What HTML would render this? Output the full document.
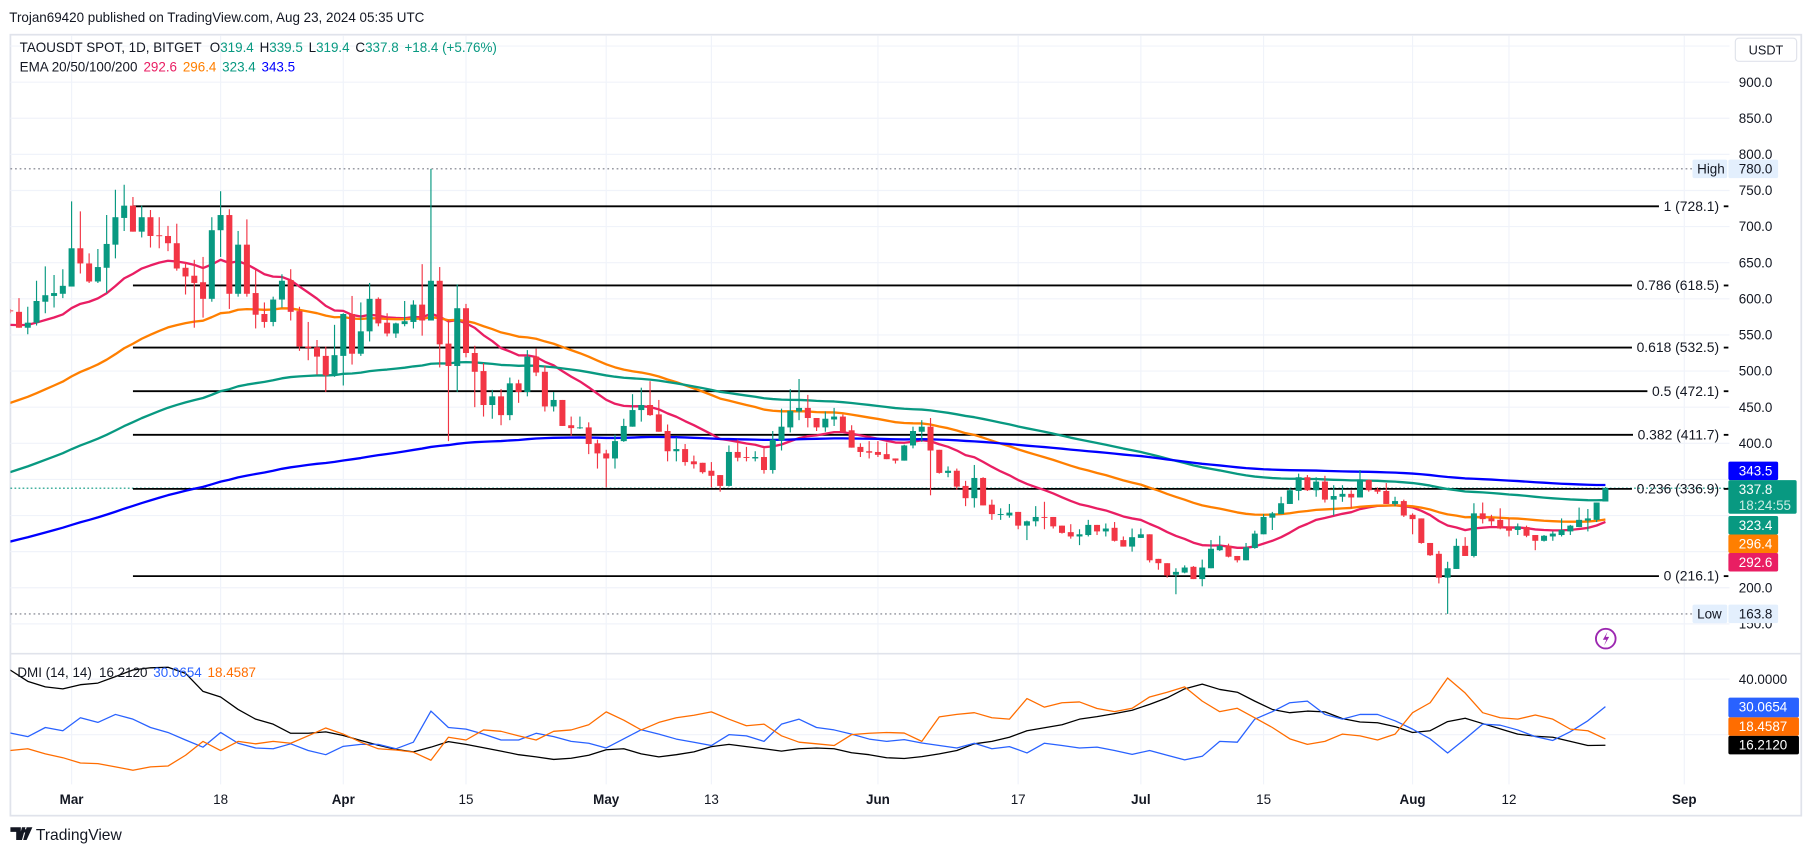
<!DOCTYPE html>
<html><head><meta charset="utf-8"><title>TAOUSDT chart</title>
<style>
html,body{margin:0;padding:0;background:#fff;}
svg{display:block;font-family:"Liberation Sans",sans-serif;}
</style></head>
<body>
<svg id="chart" width="1814" height="855" viewBox="0 0 1568 739" preserveAspectRatio="none" xmlns="http://www.w3.org/2000/svg">
<defs><clipPath id="mainclip"><rect x="9" y="31" width="1486" height="534"/></clipPath>
<clipPath id="dmiclip"><rect x="9" y="566" width="1486" height="112"/></clipPath></defs>
<rect x="0" y="0" width="1568" height="739" fill="#ffffff"/>
<text x="8" y="19" font-size="11.6" fill="#131722">Trojan69420 published on TradingView.com, Aug 23, 2024 05:35 UTC</text>
<rect x="9" y="30" width="1548" height="675" fill="none" stroke="#e0e3eb" stroke-width="1.5"/>
<g id="grid"></g>
<line x1="9" y1="565" x2="1557" y2="565" stroke="#e0e3eb" stroke-width="1.5"/>
<g id="fib"></g>
<g id="ema" clip-path="url(#mainclip)"></g>
<g id="candles" clip-path="url(#mainclip)"></g>
<g id="dmi" clip-path="url(#dmiclip)"></g>
<g id="axis"></g>
<g font-size="11.6" fill="#131722">
<text x="17" y="45">TAOUSDT SPOT, 1D, BITGET <tspan dx="4">O</tspan><tspan fill="#089981">319.4</tspan><tspan dx="5">H</tspan><tspan fill="#089981">339.5</tspan><tspan dx="5">L</tspan><tspan fill="#089981">319.4</tspan><tspan dx="5">C</tspan><tspan fill="#089981">337.8</tspan><tspan dx="5" fill="#089981">+18.4 (+5.76%)</tspan></text>
<text x="17" y="62">EMA 20/50/100/200 <tspan dx="2" fill="#e91e63">292.6</tspan><tspan dx="5" fill="#ff7f00">296.4</tspan><tspan dx="5" fill="#089981">323.4</tspan><tspan dx="5" fill="#0000ff">343.5</tspan></text>
<text x="15" y="585">DMI (14, 14) <tspan dx="3">16.2120</tspan><tspan dx="5" fill="#2962ff">30.0654</tspan><tspan dx="5" fill="#ff6d00">18.4587</tspan></text>
</g>
<g>
<rect x="1500" y="33" width="53" height="20" rx="3" fill="#fff" stroke="#e0e3eb"/>
<text x="1526.5" y="47" font-size="11" text-anchor="middle" fill="#131722">USDT</text>
</g>
<g>
<circle cx="1388" cy="552" r="8.5" fill="none" stroke="#9c27b0" stroke-width="1.6"/>
<path d="M1389.5 546 L1385.5 553 L1388.5 553 L1386.5 558 L1391 550.5 L1388 550.5 Z" fill="#9c27b0"/>
</g>
<g id="times" font-size="11.6" fill="#131722" text-anchor="middle"></g>
<g>
<path d="M9 715 h9 v11 h-4 v-7 h-5 z M19 715 h3 l-3 11 h-3 z M23 715 h5 l-5 11 h-3 z" fill="#131722"/>
<circle cx="21" cy="718" r="1.6" fill="#131722"/>
<text x="31" y="726" font-size="13.5" fill="#131722">TradingView</text>
</g>
<script>
const opens=[584,582,560,567,596,604,607,617,670,649,624,643,675,712,729,693,713,688,687,677,643,632,623,600,695,716,607,675,608,579,568,599,626,583,534,533,521,494,521,579,524,555,600,567,552,565,568,592,570,625,538,507,587,525,500,453,465,439,483,471,520,499,451,460,425,421,422,400,386,379,403,423,446,453,440,417,389,392,375,373,362,356,341,388,381,379,381,363,404,422,444,449,435,422,433,437,418,395,389,388,385,379,376,397,416,423,391,359,362,341,324,352,315,302,300,305,286,292,298,298,286,277,271,273,287,278,283,266,257,269,274,240,234,218,221,229,212,227,252,258,244,238,255,274,297,302,316,334,353,335,347,322,326,330,325,349,336,334,316,320,301,296,262,247,214,226,258,244,303,296,294,285,280,284,273,265,271,273,278,284,293,294,319.4];
const highs=[586,601,589,625,645,633,641,735,721,663,669,716,751,758,741,729,723,713,701,704,651,654,658,713,749,724,694,710,640,595,603,634,641,589,568,543,534,564,580,604,595,622,602,580,567,597,598,648,780,644,571,620,593,535,511,474,475,491,488,529,531,507,471,460,437,437,429,405,391,412,434,468,477,486,460,426,408,399,383,373,374,356,397,405,395,389,393,417,448,475,489,467,435,444,449,440,425,400,403,403,401,379,398,423,432,435,391,368,365,348,370,353,322,310,316,305,293,313,319,298,286,288,281,294,287,289,291,271,282,282,274,240,234,227,231,230,239,266,272,261,244,262,279,302,305,326,338,358,356,353,355,342,342,335,363,350,339,345,326,322,303,296,262,251,236,268,270,317,318,301,310,296,289,286,273,273,278,296,287,311,309,318,339.5];
const lows=[580,560,551,563,580,588,601,617,635,622,622,608,656,694,693,685,671,670,666,639,606,560,574,596,658,586,603,603,559,560,562,588,570,528,515,495,471,492,480,509,521,541,562,548,546,562,559,549,570,505,403,471,519,450,437,434,425,432,456,465,493,444,444,424,410,420,385,365,339,365,402,423,430,438,416,375,375,369,365,358,339,333,340,375,375,375,358,358,390,415,432,422,417,416,424,415,394,381,379,381,378,372,376,393,402,328,358,353,336,313,311,314,294,294,297,281,266,285,281,282,275,268,259,271,273,271,264,257,250,269,235,225,214,191,220,212,202,227,251,242,235,238,254,274,280,302,316,321,334,326,318,300,319,310,325,333,330,316,313,298,274,261,244,206,163.8,226,244,242,289,286,281,271,273,270,252,264,265,271,273,284,278,291,319.4];
const closes=[583,560,567,597,605,608,618,670,649,624,644,676,713,729,693,713,687,687,677,642,631,622,600,695,716,607,675,607,578,568,599,625,582,534,532,520,494,522,579,524,555,600,566,552,566,569,592,570,625,537,507,587,525,499,453,465,439,483,471,520,498,451,460,424,421,422,399,386,379,403,424,446,453,439,416,389,392,374,371,360,355,341,388,380,380,381,363,405,423,445,449,435,422,434,437,416,394,388,387,384,378,376,397,417,423,390,359,362,340,324,352,314,302,302,304,286,292,298,297,285,276,271,274,287,278,282,265,257,270,274,238,234,217,222,228,212,228,254,258,243,238,256,275,298,303,317,335,353,335,347,322,327,330,325,350,335,333,316,320,300,295,262,245,214,227,258,244,303,295,292,282,279,285,272,265,272,275,280,286,294,296,318,337.8];
const emaPeriods=[20,50,100,200];
const emaSeeds=[564,456,360,264];
const emaColors=['#e91e63','#ff7f00','#089981','#0000ff'];
const adx=[43.3,39.2,37.2,36.5,38.0,38.6,40.9,43.3,44.1,44.3,42.1,35.6,33.6,29.1,25.6,23.8,20.5,20.5,21.0,19.7,17.9,16.2,14.7,13.8,15.5,17.5,16.5,15.3,14.1,12.8,12.0,11.1,11.5,12.6,14.6,14.9,13.1,12.0,12.8,13.8,15.7,16.5,15.7,14.9,14.1,14.9,15.2,14.9,13.5,12.8,11.7,11.4,12.1,13.1,14.3,16.7,17.6,19.1,21.4,22.5,23.6,25.6,26.5,27.6,28.8,30.9,33.3,36.5,38.2,36.3,35.3,32.1,29.1,27.9,28.5,28.2,25.8,24.6,24.3,22.9,20.8,21.4,24.7,25.9,24.0,22.1,20.2,19.4,19.1,17.6,16.1,16.2];
const plusDI=[20.6,19.3,22.6,21.4,26.1,24.4,27.3,25.6,22.6,20.8,18.1,15.5,20.8,16.9,15.2,14.9,16.7,14.3,12.8,15.8,16.5,16.5,14.9,17.3,28.5,22.6,22.0,20.2,18.1,18.1,20.5,19.3,17.6,16.9,15.2,18.5,21.8,20.2,18.4,17.3,16.1,20.0,19.6,17.6,23.8,25.6,22.6,21.7,20.2,18.4,17.6,18.2,17.0,16.1,15.2,16.9,14.9,15.7,13.4,16.9,16.1,15.2,15.5,14.3,12.9,14.3,12.6,10.9,12.2,17.6,17.3,25.6,28.3,31.5,32.1,27.3,25.6,27.3,27.3,25.0,22.0,18.5,13.4,18.5,23.8,23.4,21.7,19.3,17.9,21.1,25.0,30.07];
const minusDI=[14.3,14.9,13.1,11.7,9.8,9.6,8.4,7.2,8.4,8.7,12.6,17.6,14.3,17.6,16.7,17.6,16.9,19.6,22.4,20.2,17.3,14.9,14.5,13.7,10.8,19.1,18.1,21.7,21.2,19.6,18.1,21.2,21.7,23.6,28.2,25.2,21.7,24.4,26.1,27.0,28.2,25.6,23.2,23.8,19.6,17.3,16.7,16.1,20.0,20.5,20.8,20.6,17.6,26.4,27.3,27.9,26.1,25.6,33.0,29.9,31.5,31.8,29.4,28.3,29.5,33.6,35.3,37.2,32.1,28.3,29.5,26.1,22.6,18.5,16.5,17.6,20.2,19.6,18.1,20.2,27.9,31.5,40.4,35.0,27.9,26.1,25.6,27.1,25.6,22.0,21.4,18.46];
const dmiStep=2;
const priceTicks=[900,850,800,750,700,650,600,550,500,450,400,200,150];
const gridPrices=[950,900,850,800,750,700,650,600,550,500,450,400,350,300,250,200,150];
const fibLevels=['1','0.786','0.618','0.5','0.382','0.236','0'];
const fibPrices=[728.1,618.5,532.5,472.1,411.7,336.9,216.1];
const fibStartIndex=14;
const timeLabels=['Mar','18','Apr','15','May','13','Jun','17','Jul','15','Aug','12','Sep'];
const timeIndex=[7,24,38,52,68,80,99,115,129,143,160,171,191];
const timeBold=[1,0,1,0,1,0,1,0,1,0,1,0,1];
const highPrice=780.0, lowPrice=163.8;

const NS='http://www.w3.org/2000/svg';
const yP=p=>71+(900-p)*0.6243;
const xI=i=>8.85+7.576*i;
const yD=v=>587+(40-v)*2.4;
function mk(tag,attrs,parent){const e=document.createElementNS(NS,tag);for(const k in attrs)e.setAttribute(k,attrs[k]);parent.appendChild(e);return e;}
const grid=document.getElementById('grid');
gridPrices.forEach(p=>{const y=yP(p);if(y<31||y>564)return;
 const l=mk('line',{x1:9,x2:1495,y1:y,y2:y,stroke:'#f0f3fa','stroke-width':1},grid);
 
 });
[40,20].forEach(v=>{const l=mk('line',{x1:9,x2:1495,y1:yD(v),y2:yD(v),stroke:'#f0f3fa','stroke-width':1},grid);
 
 });
const times=document.getElementById('times');
timeIndex.forEach((ti,k)=>{const x=xI(ti);
 const l=mk('line',{x1:x,x2:x,y1:31,y2:678,stroke:'#f0f3fa','stroke-width':1},grid);
 
 
 const t=mk('text',{x:x,y:695,'font-weight':timeBold[k]?'bold':'normal'},times);
 t.textContent=timeLabels[k];
 
 });
// high/low/current lines
const axis=document.getElementById('axis');
const hl=mk('line',{x1:9,x2:1463,y1:yP(highPrice),y2:yP(highPrice),stroke:'#787b86','stroke-width':1,'stroke-dasharray':'1.5 2.5'},grid);


const ll=mk('line',{x1:9,x2:1463,y1:yP(lowPrice),y2:yP(lowPrice),stroke:'#787b86','stroke-width':1,'stroke-dasharray':'1.5 2.5'},grid);


// fib
const fib=document.getElementById('fib');
fibPrices.forEach((p,k)=>{const y=yP(p);
 const t=mk('text',{x:1486,y:y+4,'font-size':12,'text-anchor':'end',fill:'#131722'},fib);
 t.textContent=fibLevels[k]+' ('+p.toFixed(1)+')';
 
 
 let w=70;try{w=t.getComputedTextLength();}catch(e){}
 const l=mk('line',{x1:xI(fibStartIndex),x2:1486-w-4,y1:y,y2:y,stroke:'#000','stroke-width':1.6},fib);
 
 
 const d=mk('line',{x1:1490,x2:1494,y1:y,y2:y,stroke:'#000','stroke-width':1.6},fib);
 
 });
const cur=closes[closes.length-1];
const cl=mk('line',{x1:9,x2:1494,y1:yP(cur),y2:yP(cur),stroke:'#089981','stroke-width':1,'stroke-dasharray':'1.5 2'},grid);


// EMAs
const emaG=document.getElementById('ema');
const emaVals=emaPeriods.map((per,k)=>{const a=2/(per+1);let e=emaSeeds[k];const out=[];closes.forEach((c,i)=>{if(i>0)e=e+a*(c-e);out.push(e);});return out;});
emaVals.forEach((arr,k)=>{const d=arr.map((v,i)=>(i?'L':'M')+xI(i).toFixed(1)+' '+yP(v).toFixed(1)).join(' ');
 const p=mk('path',{d:d,fill:'none',stroke:emaColors[k],'stroke-width':2,'stroke-linejoin':'round'},emaG);
 
 });
// candles
const cg=document.getElementById('candles');
closes.forEach((c,i)=>{const o=opens[i],up=c>=o,col=up?'#089981':'#f23645',x=xI(i);
 const w=mk('line',{x1:x,x2:x,y1:yP(highs[i]),y2:yP(lows[i]),stroke:col,'stroke-width':1},cg);
 
 
 const top=yP(Math.max(o,c)),bot=yP(Math.min(o,c));
 const b=mk('rect',{x:x-2.6,y:top,width:5.2,height:Math.max(bot-top,0.8),fill:col},cg);
 
 });
// DMI
const dg=document.getElementById('dmi');
[[adx,'#000000','adx-line'],[plusDI,'#2962ff','plus-di-line'],[minusDI,'#ff6d00','minus-di-line']].forEach(s=>{
 const d=s[0].map((v,k)=>(k?'L':'M')+xI(k*dmiStep).toFixed(1)+' '+yD(v).toFixed(1)).join(' ');
 const p=mk('path',{d:d,fill:'none',stroke:s[1],'stroke-width':1.1,'stroke-linejoin':'round'},dg);
 
 });
// price axis labels
priceTicks.forEach(p=>{const t=mk('text',{x:1503,y:yP(p)+4,'font-size':11.6,fill:'#131722'},axis);
 t.textContent=p.toFixed(1);
 
 });
const t40=mk('text',{x:1503,y:yD(40)+4,'font-size':11.6,fill:'#131722'},axis);
t40.textContent='40.0000';


function box(name,x,y,w,h,bg,fg,lines,extra){
 const r=mk('rect',{x:x,y:y,width:w,height:h,fill:bg,rx:1.5},axis);
 
 
 lines.forEach((s,k)=>{const t=mk('text',{x:x+(extra||4),y:y+12+k*14,'font-size':11.6,fill:k?'#c9ece4':fg},axis);
 t.textContent=s;
 
 });}
box('high-tag',1463,yP(highPrice)-8,30,16,'#e3effd','#131722',['High']);
box('high-value',1494,yP(highPrice)-8,43,16,'#e3effd','#131722',[highPrice.toFixed(1)],9);
box('low-tag',1463,yP(lowPrice)-8,30,16,'#e3effd','#131722',['Low']);
box('low-value',1494,yP(lowPrice)-8,43,16,'#e3effd','#131722',[lowPrice.toFixed(1)],9);
box('ema200-price',1494,399,43,16,'#0000ff','#fff',[emaVals[3][closes.length-1]>0?'343.5':''],9);
box('last-price',1494,415,59,29,'#089981','#fff',[cur.toFixed(1),'18:24:55'],9);
box('ema100-price',1494,446,43,16,'#089981','#fff',['323.4'],9);
box('ema50-price',1494,462,43,16,'#ff7f00','#fff',['296.4'],9);
box('ema20-price',1494,478,43,16,'#e91e63','#fff',['292.6'],9);
box('plus-di-value',1494,603,61,17,'#2962ff','#fff',[plusDI[plusDI.length-1]>0?'30.0654':''],9);
box('minus-di-value',1494,620,61,16,'#ff6d00','#fff',['18.4587'],9);
box('adx-value',1494,636,61,16,'#000000','#fff',['16.2120'],9);
</script>
</svg>
</body></html>
